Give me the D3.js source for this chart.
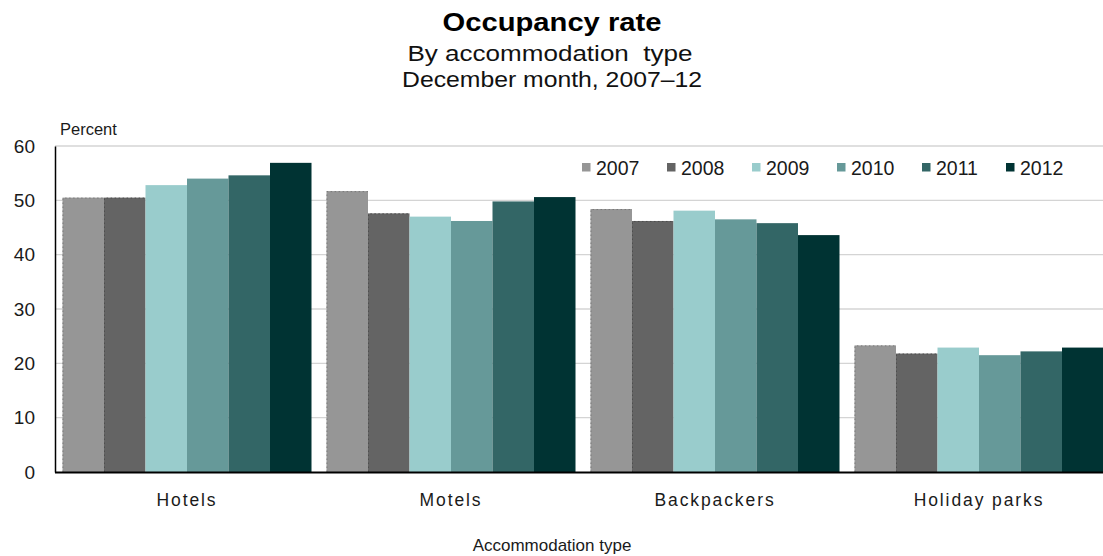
<!DOCTYPE html>
<html><head><meta charset="utf-8">
<script src="https://cdn.jsdelivr.net/npm/d3@7"></script>
<style>body{margin:0;background:#fff}svg{display:block;font-family:"Liberation Sans",Arial,sans-serif}</style>
</head><body><svg id="c" width="1103" height="556"></svg>
<script>
const categories = ["Hotels","Motels","Backpackers","Holiday parks"];
const years = ["2007","2008","2009","2010","2011","2012"];
const v2007 = [50.5, 51.7, 48.4, 23.3];
const v2008 = [50.5, 47.6, 46.2, 21.8];
const v2009 = [52.8, 47.0, 48.1, 22.9];
const v2010 = [54.0, 46.2, 46.5, 21.5];
const v2011 = [54.6, 49.8, 45.8, 22.2];
const v2012 = [56.9, 50.6, 43.6, 22.9];
const yTicks = [0,10,20,30,40,50,60];
const colors = ["#969696","#646464","#99cccc","#669999","#336666","#003333"];
const series = [v2007,v2008,v2009,v2010,v2011,v2012];

const svg = d3.select("#c");
const L = 55, R = 1111, T = 146, B = 472;
const x0 = d3.scaleBand().domain(categories).range([L, R]).padding(0);
const x1 = d3.scaleBand().domain(years).range([7.5, x0.bandwidth()-7.5]).padding(0);
const y = d3.scaleLinear().domain([0,60]).range([B, T]);

// gridlines
svg.append("g").selectAll("line").data(yTicks.filter(d=>d>0)).join("line")
  .attr("x1", L).attr("x2", 1103).attr("y1", d=>y(d)).attr("y2", d=>y(d))
  .attr("stroke", "#d4d4d4").attr("stroke-width", 1.3);

// bars
const g = svg.append("g");
categories.forEach((c, ci) => {
  series.forEach((s, si) => {
    g.append("rect")
      .attr("x", x0(c) + x1(years[si]))
      .attr("y", y(s[ci]))
      .attr("width", x1.bandwidth())
      .attr("height", y(0) - y(s[ci]))
      .attr("fill", colors[si]);
    if (si < 2) {
      g.append("path")
        .attr("d", `M${x0(c)+x1(years[si])+0.5},${y(0)}V${y(s[ci])+0.5}H${x0(c)+x1(years[si])+x1.bandwidth()}`)
        .attr("fill","none").attr("stroke", si===0?"#7a7a7a":"#4e4e4e")
        .attr("stroke-width",1).attr("stroke-dasharray","1.5,2.5");
    }
  });
});

// axes
const ya = d3.axisLeft(y).tickValues(yTicks).tickSize(0).tickPadding(20);
const yg = svg.append("g").attr("transform", `translate(${L},0)`).call(ya);
yg.select(".domain").attr("stroke","#000").attr("stroke-width",1.5);
yg.selectAll("text").attr("font-size", 19).attr("fill","#1a1a1a")
  .attr("font-family","Liberation Sans, Arial, sans-serif");

const xa = d3.axisBottom(x0).tickSize(0).tickPadding(22);
const xg = svg.append("g").attr("transform", `translate(0,${B})`).call(xa);
xg.select(".domain").attr("d", `M${L},0.5H1103`).attr("stroke","#000").attr("stroke-width",2);
xg.selectAll("text").attr("font-size", 17.5).attr("fill","#1a1a1a").attr("letter-spacing","1.9px")
  .attr("font-family","Liberation Sans, Arial, sans-serif");

// titles
svg.append("text").attr("x", 552).attr("y", 31).attr("text-anchor","middle")
  .attr("font-size", 25).attr("font-weight","bold").attr("fill","#000")
  .attr("textLength", 219).attr("lengthAdjust","spacingAndGlyphs").text("Occupancy rate");
svg.append("text").attr("x", 550).attr("y", 61).attr("text-anchor","middle")
  .attr("font-size", 22).attr("fill","#111")
  .attr("textLength", 285).attr("lengthAdjust","spacingAndGlyphs").text("By accommodation\u00a0 type");
svg.append("text").attr("x", 552).attr("y", 87).attr("text-anchor","middle")
  .attr("font-size", 22).attr("fill","#111")
  .attr("textLength", 300).attr("lengthAdjust","spacingAndGlyphs").text("December month, 2007\u201312");
svg.append("text").attr("x", 60).attr("y", 135).attr("font-size", 16.5).attr("fill","#1a1a1a").text("Percent");
svg.append("text").attr("x", 552).attr("y", 551).attr("text-anchor","middle")
  .attr("font-size", 17).attr("fill","#1a1a1a").text("Accommodation type");

// legend
const lg = svg.append("g");
const legX = [582, 667, 752, 837, 922, 1006];
years.forEach((yr, i) => {
  lg.append("rect").attr("x", legX[i]).attr("y", 163).attr("width", 8.5).attr("height", 8.5).attr("fill", colors[i]);
  lg.append("text").attr("x", legX[i] + 14).attr("y", 175).attr("font-size", 19.5).attr("fill","#1a1a1a").text(yr);
});
</script></body></html>
